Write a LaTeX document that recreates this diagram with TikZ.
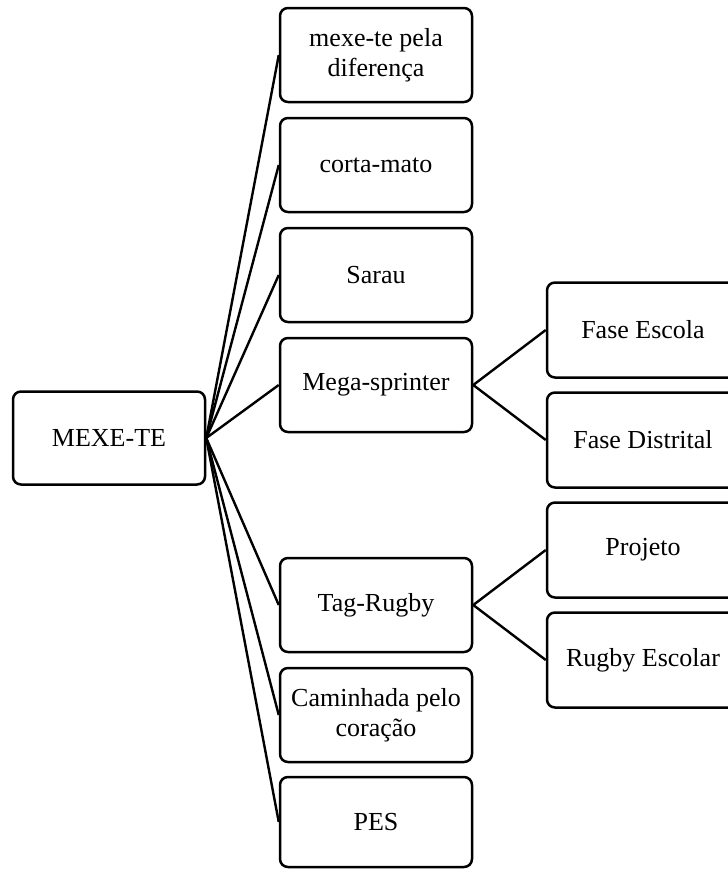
\documentclass[tikz,border=0pt]{standalone}
\usepackage{fontspec}
\setmainfont{Liberation Serif}
\begin{document}
\begin{tikzpicture}[x=1pt,y=-1pt,
  box/.style={draw, line width=2.5pt, rounded corners=8pt, minimum width=192pt,
    minimum height=94pt, align=center, inner sep=2pt,
    font=\fontsize{26}{30}\selectfont},
  link/.style={line width=2.4pt}]
\useasboundingbox (0,0) rectangle (728,870);
\clip (0,0) rectangle (728,870);
\node[box, minimum height=93pt] (root) at (109,438) {MEXE-TE};
\node[box] (m1) at (376,55) {mexe-te pela\\diferença};
\node[box] (m2) at (376,165) {corta-mato};
\node[box] (m3) at (376,275) {Sarau};
\node[box] (m4) at (376,385) {Mega-sprinter};
\node[box] (m5) at (376,605) {Tag-Rugby};
\node[box] (m6) at (376,715) {Caminhada pelo\\coração};
\node[box, minimum height=90pt] (m7) at (376,822) {PES};
\node[box, minimum height=95pt] (r1) at (643,330) {Fase Escola};
\node[box, minimum height=95pt] (r2) at (643,440) {Fase Distrital};
\node[box, minimum height=95pt] (r3) at (643,550) {Projeto};
\node[box, minimum height=95pt] (r4) at (643,660) {Rugby Escolar};
\foreach \m in {m1,m2,m3,m4,m5,m6,m7} \draw[link] (root.east) -- (\m.west);
\draw[link] (m4.east) -- (r1.west);
\draw[link] (m4.east) -- (r2.west);
\draw[link] (m5.east) -- (r3.west);
\draw[link] (m5.east) -- (r4.west);
\end{tikzpicture}
\end{document}
